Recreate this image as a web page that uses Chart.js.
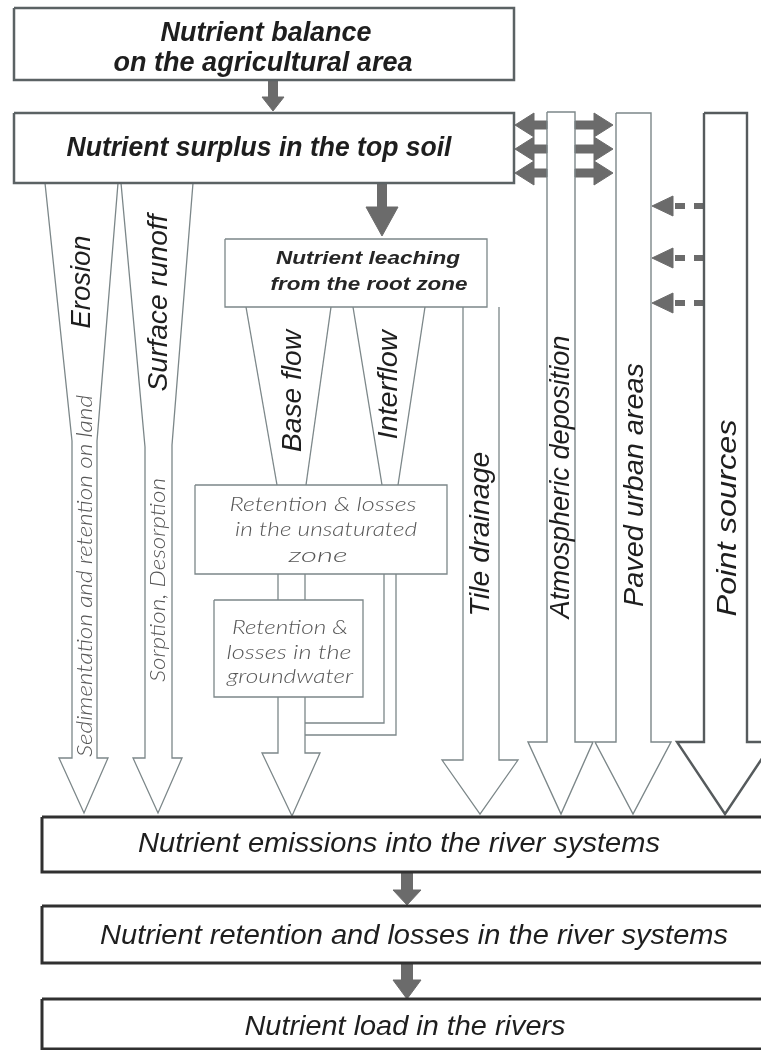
<!DOCTYPE html>
<html lang="en">
<head>
    <meta charset="UTF-8">
    <title>Nutrient pathways</title>
    <script src="https://cdn.jsdelivr.net/npm/chart.js"></script>
    <style>
        html, body { margin: 0; padding: 0; background: #fff; }
        canvas { display: block; }
    </style>
</head>
<body>
    <canvas id="flowChart" width="761" height="1050"></canvas>

    <script>
        // Diagram units follow the reference picture: x to the right, y downwards

        // Boxes as [left, top, right, bottom]
        const upperBoxes = [[14, 8, 514, 80], [14, 113, 514, 183]];
        const soilBoxes = [[225, 239, 487, 307], [195, 485, 447, 574], [214, 600, 363, 697]];
        const riverBoxes = [[42, 817, 790, 872], [42, 906, 790, 963], [42, 999, 790, 1049]];

        // Open pathway outlines (funnels, pipes and hollow arrows)
        const pathways = [
            [[45, 183], [72, 441], [72, 758], [59, 758], [84, 813], [108, 758], [97, 758], [97, 441], [118, 183]],
            [[121, 183], [145, 447], [145, 758], [133, 758], [158, 813], [182, 758], [172, 758], [172, 445], [193, 183]],
            [[246, 307], [277, 485]], [[331, 307], [306, 485]],
            [[353, 307], [382, 485]], [[425, 307], [398, 485]],
            [[278, 574], [278, 600]], [[305, 574], [305, 600]],
            [[278, 697], [278, 753], [262, 753], [292, 816], [320, 753], [305, 753], [305, 697]],
            [[384, 574], [384, 723], [305, 723]], [[396, 574], [396, 735], [305, 735]],
            [[463, 307], [463, 760], [442, 760], [480, 814], [518, 760], [499, 760], [499, 307]]
        ];
        // Closed source columns
        const sourceColumns = [
            [[547, 112], [547, 742], [528, 742], [561, 814], [593, 742], [575, 742], [575, 112], [547, 112]],
            [[616, 113], [616, 742], [595, 742], [633, 814], [671, 742], [651, 742], [651, 113], [616, 113]]
        ];
        const pointColumn = [[704, 113], [704, 742], [677, 742], [725, 814], [773, 742], [747, 742], [747, 113], [704, 113]];

        // Solid arrows: down [x, yStart, yTip], sideways [xStart, xTip, y]
        const downArrows = [[273, 80, 111], [382, 183, 236], [407, 872, 905], [407, 963, 999]];
        const downArrowSize = [[4.5, 11, 14], [4.5, 16, 29], [5.5, 14, 15], [5.5, 14, 19]];
        const exchangeArrows = [
            [547, 515, 125], [547, 515, 149], [547, 515, 173],
            [575, 613, 125], [575, 613, 149], [575, 613, 173]
        ];
        const dashedLinks = [206, 258, 303];

        // Text
        const headTitles = [
            ['Nutrient balance', 266, 34, 211],
            ['on the agricultural area', 263, 64, 299],
            ['Nutrient surplus in the top soil', 259, 149, 385]
        ];
        const leachTitles = [
            ['Nutrient leaching', 368, 259, 184],
            ['from the root zone', 369, 285, 197]
        ];
        const pathwayNames = [
            ['Erosion', 90, 282, 93],
            ['Surface runoff', 167, 303, 177],
            ['Base flow', 301, 391, 122],
            ['Interflow', 397, 385, 109],
            ['Tile drainage', 489, 534, 165],
            ['Atmospheric deposition', 569, 477, 283],
            ['Paved urban areas', 643, 485, 244],
            ['Point sources', 736, 518, 197]
        ];
        const processNames = [
            ['Sedimentation and retention on land', 92, 576, 362],
            ['Sorption, Desorption', 165, 580, 204]
        ];
        const retentionNotes = [
            ['Retention & losses', 323, 505, 187],
            ['in the unsaturated', 326, 530, 182],
            ['zone', 318, 556, 59],
            ['Retention &', 290, 628, 116],
            ['losses in the', 289, 653, 125],
            ['groundwater', 290, 677, 126]
        ];
        const riverTitles = [
            ['Nutrient emissions into the river systems', 399, 844, 522],
            ['Nutrient retention and losses in the river systems', 414, 936, 628],
            ['Nutrient load in the rivers', 405, 1027, 321]
        ];

        const ink = {
            thin: '#7c8789',
            frame: '#5b6264',
            heavy: '#303030',
            solid: '#6b6b6b',
            text: '#1e1e1e',
            soft: '#555555'
        };

        function rect(b) {
            return [[b[0], b[1]], [b[2], b[1]], [b[2], b[3]], [b[0], b[3]], [b[0], b[1]]];
        }

        function downArrow(a, s) {
            const [x, y0, y1] = a, [sh, hh, hl] = s, yb = y1 - hl;
            return [[x - sh, y0], [x + sh, y0], [x + sh, yb], [x + hh, yb], [x, y1], [x - hh, yb], [x - sh, yb], [x - sh, y0]];
        }

        function sideArrow(a, s) {
            const [x0, x1, y] = a, [sh, hh, hl] = s;
            const xb = x1 - Math.sign(x1 - x0) * hl;
            return [[x0, y - sh], [xb, y - sh], [xb, y - hh], [x1, y], [xb, y + hh], [xb, y + sh], [x0, y + sh], [x0, y - sh]];
        }

        function series(points, color, width, extra) {
            return Object.assign({
                data: points.map(p => ({ x: p[0], y: p[1] })),
                showLine: true,
                pointRadius: 0,
                pointHoverRadius: 0,
                borderColor: color,
                borderWidth: width,
                fill: false,
                tension: 0,
                borderJoinStyle: 'miter',
                borderCapStyle: 'butt'
            }, extra || {});
        }

        const solidFill = { fill: 'shape', backgroundColor: ink.solid };
        const datasets = [];

        upperBoxes.forEach(b => datasets.push(series(rect(b), ink.frame, 2.5)));
        soilBoxes.forEach(b => datasets.push(series(rect(b), ink.thin, 1.3)));
        riverBoxes.forEach(b => datasets.push(series(rect(b), ink.heavy, 3)));
        pathways.forEach(p => datasets.push(series(p, ink.thin, 1.3)));
        sourceColumns.forEach(p => datasets.push(series(p, ink.thin, 1.4)));
        datasets.push(series(pointColumn, '#565b5d', 2.4));
        downArrows.forEach((a, i) => datasets.push(series(downArrow(a, downArrowSize[i]), ink.solid, 1, solidFill)));
        exchangeArrows.forEach(a => datasets.push(series(sideArrow(a, [4, 12, 19]), ink.solid, 1, solidFill)));
        dashedLinks.forEach(y => {
            datasets.push(series([[704, y], [673, y]], ink.solid, 6, { borderDash: [10, 9] }));
            datasets.push(series(sideArrow([673, 652, y], [0, 10, 21]), ink.solid, 1, solidFill));
        });

        // Writes a label at diagram coordinates, stretched to the length
        function writeLabels(chart, labels, font, color, rotated) {
            const ctx = chart.ctx;
            const xs = chart.scales.x, ys = chart.scales.y;
            labels.forEach(lab => {
                const px = xs.getPixelForValue(lab[1]);
                const py = ys.getPixelForValue(lab[2]);
                const len = Math.abs(xs.getPixelForValue(lab[3]) - xs.getPixelForValue(0));
                ctx.save();
                ctx.translate(px, py);
                if (rotated) ctx.rotate(-Math.PI / 2);
                ctx.font = font;
                ctx.textAlign = 'center';
                ctx.textBaseline = rotated ? 'alphabetic' : 'middle';
                ctx.fillStyle = color;
                const w = ctx.measureText(lab[0]).width;
                ctx.scale(len / w, 1);
                ctx.fillText(lab[0], 0, 0);
                ctx.restore();
            });
        }

        const labelPlugin = {
            id: 'diagramLabels',
            afterDatasetsDraw(chart) {
                writeLabels(chart, headTitles, 'italic bold 27px "Liberation Sans", Arial, sans-serif', ink.text, false);
                writeLabels(chart, leachTitles, 'italic bold 18px "Liberation Sans", Arial, sans-serif', '#262626', false);
                writeLabels(chart, pathwayNames, 'italic 28px "Liberation Sans", Arial, sans-serif', ink.text, true);
                writeLabels(chart, processNames, 'italic 300 21px Lato, "Liberation Sans", sans-serif', ink.soft, true);
                writeLabels(chart, retentionNotes, 'italic 300 19px Lato, "Liberation Sans", sans-serif', ink.soft, false);
                writeLabels(chart, riverTitles, 'italic 27px "Liberation Sans", Arial, sans-serif', ink.text, false);
            }
        };

        const ctx = document.getElementById('flowChart').getContext('2d');
        new Chart(ctx, {
            type: 'scatter',
            data: { datasets: datasets },
            options: {
                responsive: false,
                animation: false,
                devicePixelRatio: 1,
                layout: { padding: 0 },
                plugins: {
                    legend: { display: false },
                    tooltip: { enabled: false }
                },
                scales: {
                    x: { type: 'linear', min: 0, max: 761, display: false },
                    y: { type: 'linear', min: 0, max: 1050, reverse: true, display: false }
                }
            },
            plugins: [labelPlugin]
        });
    </script>
</body>
</html>
